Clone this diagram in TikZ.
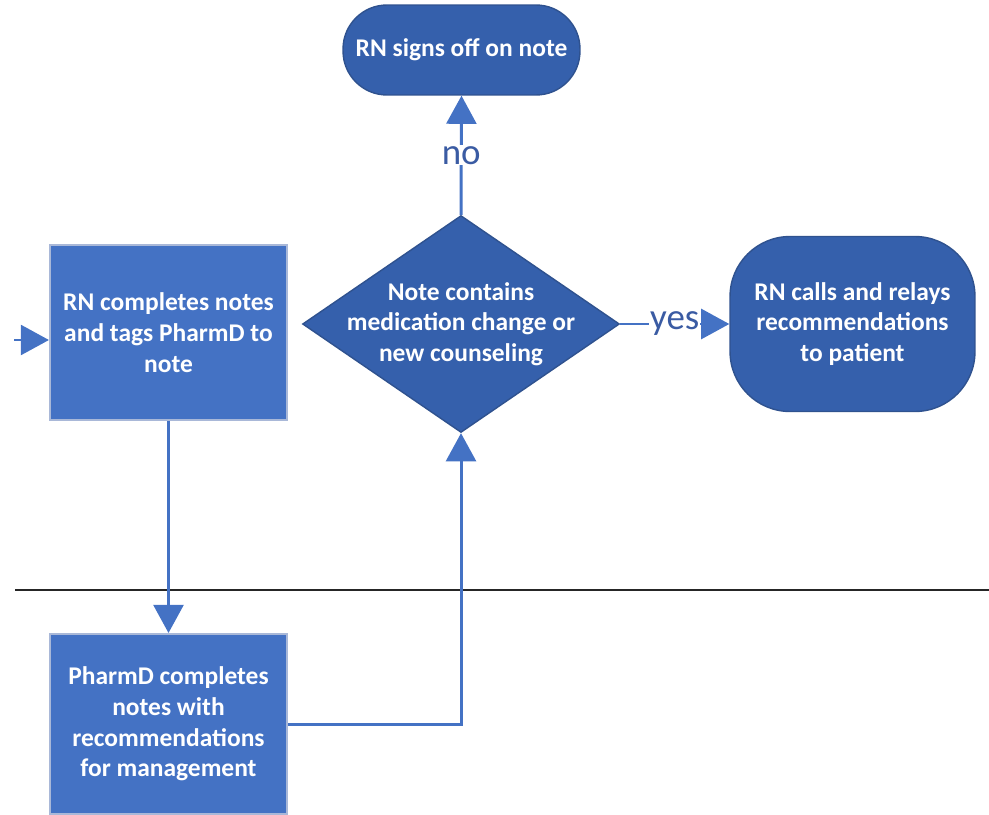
\documentclass[tikz,border=0pt]{standalone}
\usepackage{fontspec}
\setmainfont{Carlito}
\usetikzlibrary{arrows.meta, positioning, shapes.geometric}
\definecolor{boxblue}{HTML}{4472C4}
\definecolor{darkblue}{HTML}{3560AC}
\definecolor{edgeblue}{HTML}{2F528F}
\definecolor{paleedge}{HTML}{A9B8D8}
\definecolor{lblblue}{HTML}{3A5BA3}
\tikzset{
    proc/.style={rectangle, draw=paleedge, line width=1.2pt, fill=boxblue, text=white, minimum width=4.74cm, font=\bfseries\fontsize{14.5}{17.5}\selectfont, align=center},
    term/.style={rectangle, draw=edgeblue, line width=0.8pt, fill=darkblue, text=white, font=\bfseries\fontsize{14.5}{17.5}\selectfont, align=center},
    decis/.style={diamond, draw=edgeblue, line width=0.8pt, fill=darkblue, minimum width=6.34cm, minimum height=4.34cm, inner sep=0pt},
    wtext/.style={text=white, font=\bfseries\fontsize{14.5}{17.5}\selectfont, align=center},
    lbl/.style={fill=white, text=lblblue, font=\fontsize{21}{24}\selectfont, inner sep=0.5pt}
}

\begin{document}
\begin{tikzpicture}[x=0.02cm, y=-0.02cm,
    flow/.style={line width=1.7pt, draw=boxblue, -{Triangle[width=17pt, length=16pt]}}
]
  \useasboundingbox (0,0) rectangle (989,814);

  \node (rnnote) [proc, minimum height=3.5cm] at (168.5,332.5) {RN completes notes\\and tags PharmD to\\note};
  \node (pharm) [proc, minimum height=3.6cm, below=4.24cm of rnnote] {PharmD completes\\notes with\\recommendations\\for management};
  \node (check) [decis] at (461,324) {};
  \node (checktxt) [wtext] at (check) {Note contains\\medication change or\\new counseling};
  \node (signoff) [term, minimum width=4.74cm, minimum height=1.8cm, rounded corners=0.88cm] at (461.5,50) {RN signs off on note};
  \node (relay) [term, minimum width=4.9cm, minimum height=3.5cm, rounded corners=1.2cm] at (852.5,324) {RN calls and relays\\recommendations\\to patient};
  \coordinate (inlet) at (14,340);

  % lane divider
  \draw [line width=1.2pt, black!85] (15,590) -- (989,590);

  \draw [flow] (inlet) -- (rnnote.west |- inlet);
  \draw [flow] (rnnote) -- (pharm);
  \draw [flow] (pharm.east) -| (check.south);
  \draw [flow] (check.north) -- node[lbl] {no} (signoff.south);
  \draw [flow] (check.east) -- node[lbl] {yes} (relay.west);
\end{tikzpicture}
\end{document}
